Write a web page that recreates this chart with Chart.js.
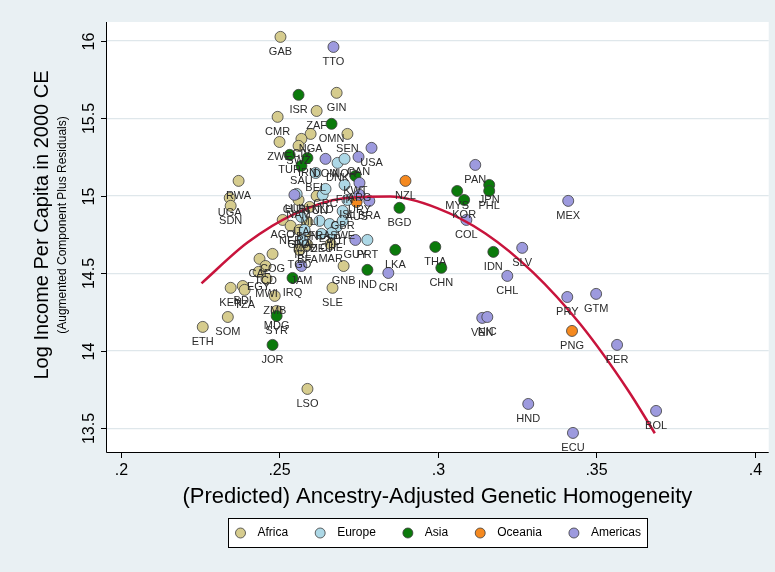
<!DOCTYPE html>
<html>
<head>
<meta charset="utf-8">
<script src="https://cdn.jsdelivr.net/npm/chart.js@4.4.0/dist/chart.umd.min.js"></script>
<style>
  body { margin: 0; background: #e9f0f3; }
  canvas { display: block; }
</style>
</head>
<body>
<canvas id="chart" width="775" height="572"></canvas>
<script>
// values
const africaCodes = ["GAB","GIN","ZAF","CMR","SEN","NGA","CIV","ZWE","SWZ","NAM","TUN","MLI","AGO","NER","BEN","GHA","MOZ","BFA","TGO","MAR","GNB","SLE","COG","CAF","TCD","EGY","MWI","BDI","TZA","KEN","ZMB","MDG","LSO","RWA","UGA","SDN","ETH","SOM"];
const africaX = [.2504,.2681,.2618,.2495,.2715,.2599,.2570,.2501,.2561,.2561,.2618,.2596,.2511,.2536,.2589,.2564,.2583,.2589,.2564,.2662,.2703,.2668,.2479,.2438,.2457,.2435,.2460,.2385,.2391,.2347,.2486,.2492,.2589,.2372,.2344,.2347,.2259,.2338];
const africaY = [16.024,15.663,15.546,15.508,15.398,15.398,15.366,15.346,15.321,14.972,14.998,14.927,14.843,14.805,14.830,14.779,14.753,14.682,14.650,14.688,14.546,14.405,14.624,14.592,14.546,14.508,14.463,14.417,14.392,14.405,14.353,14.256,13.753,15.095,14.985,14.934,14.153,14.217];

const europeCodes = ["DNK","NOR","BEL","FIN","HUN","NLD","ISL","GBR","ITA","FRA","ESP","AUT","SWE","DEU","CHE","IRL","POL","PRT","GRC"];
const europeX = [.2684,.2706,.2615,.2706,.2555,.2637,.2715,.2700,.2570,.2627,.2659,.2681,.2700,.2633,.2665,.2574,.2580,.2778,.2646];
const europeY = [15.211,15.237,15.146,15.069,15.011,15.005,14.972,14.901,14.863,14.837,14.817,14.798,14.837,14.753,14.759,14.714,14.779,14.714,15.043];

const asiaCodes = ["ISR","OMN","TUR","IRN","SAU","KWT","IRQ","SYR","JOR","IND","BGD","LKA","THA","CHN","MYS","KOR","JPN","PHL","IDN"];
const asiaX = [.2561,.2665,.2533,.2589,.2570,.2740,.2542,.2492,.2479,.2778,.2879,.2866,.2992,.3011,.3061,.3083,.3162,.3162,.3175];
const asiaY = [15.650,15.463,15.263,15.243,15.192,15.127,14.469,14.224,14.037,14.521,14.921,14.650,14.669,14.534,15.030,14.972,15.069,15.030,14.637];

const oceaniaCodes = ["AUS","NZL","PNG"];
const oceaniaX = [.2744,.2898,.3423];
const oceaniaY = [14.959,15.095,14.127];

const americasCodes = ["TTO","USA","DOM","CAN","ARG","URY","BRA","CUB","GUY","JAM","CRI","PAN","MEX","COL","SLV","CHL","PRY","GTM","VEN","NIC","PER","HND","BOL","ECU"];
const americasX = [.2671,.2791,.2646,.2750,.2753,.2753,.2784,.2548,.2740,.2570,.2844,.3118,.3411,.3090,.3266,.3219,.3408,.3499,.3140,.3156,.3565,.3285,.3688,.3426];
const americasY = [15.959,15.308,15.237,15.250,15.082,15.005,14.966,15.005,14.714,14.546,14.501,15.198,14.966,14.843,14.663,14.482,14.346,14.366,14.211,14.217,14.037,13.656,13.611,13.469];

// fitted curve, read at a few points along it
const fitX = [.2255,.24,.255,.27,.285,.30,.315,.33,.345,.36,.3684];
const fitY = [14.434,14.697,14.884,14.982,14.994,14.918,14.756,14.505,14.168,13.743,13.467];

const xTicks = [.2,.25,.3,.35,.4];
const xTickLabels = [".2",".25",".3",".35",".4"];
const yTicks = [13.5,14,14.5,15,15.5,16];
const yTickLabels = ["13.5","14","14.5","15","15.5","16"];

const regions = ["Africa","Europe","Asia","Oceania","Americas"];
const regionColors = ["#d6cc8e","#add8e6","#0b7a0b","#f5891f","#9d9ade"];
const regionCodes = [africaCodes, europeCodes, asiaCodes, oceaniaCodes, americasCodes];
const regionX = [africaX, europeX, asiaX, oceaniaX, americasX];
const regionY = [africaY, europeY, asiaY, oceaniaY, americasY];

const FONT = '"Liberation Sans", Arial, sans-serif';

const datasets = [{
  type: "line",
  label: "fit",
  data: fitX.map((x, i) => ({ x: x, y: fitY[i] })),
  borderColor: "#c8143c",
  borderWidth: 2.5,
  pointRadius: 0,
  fill: false,
  cubicInterpolationMode: "monotone",
  order: 0
}];

regions.forEach((r, k) => {
  datasets.push({
    label: r,
    data: regionX[k].map((x, i) => ({ x: x, y: regionY[k][i], code: regionCodes[k][i] })),
    backgroundColor: regionColors[k],
    borderColor: "#3c3c3c",
    borderWidth: 0.8,
    pointRadius: 5.5,
    pointHoverRadius: 5.5,
    order: 5 - k + 1
  });
});

const decor = {
  id: "decor",
  beforeDraw(chart) {
    const { ctx, chartArea: a } = chart;
    ctx.save();
    ctx.fillStyle = "#e9f0f3";
    ctx.fillRect(0, 0, chart.width, chart.height);
    ctx.fillStyle = "#ffffff";
    ctx.fillRect(a.left, a.top, a.right - a.left, a.bottom - a.top);
    ctx.restore();
  },
  afterDatasetsDraw(chart) {
    const ctx = chart.ctx;
    ctx.save();
    ctx.font = "11px " + FONT;
    ctx.fillStyle = "#2a2a2a";
    ctx.textAlign = "center";
    ctx.textBaseline = "middle";
    chart.data.datasets.forEach((ds, i) => {
      if (ds.type === "line") return;
      const meta = chart.getDatasetMeta(i);
      meta.data.forEach((pt, j) => {
        ctx.fillText(ds.data[j].code, pt.x, pt.y + 15);
      });
    });
    ctx.restore();
  },
  afterDraw(chart) {
    const { ctx, chartArea: a } = chart;
    const xs = chart.scales.x, ys = chart.scales.y;
    ctx.save();
    ctx.strokeStyle = "#000";
    ctx.lineWidth = 1;
    ctx.beginPath();
    ctx.moveTo(a.left + 0.5, a.top);
    ctx.lineTo(a.left + 0.5, a.bottom + 0.5);
    ctx.lineTo(a.right, a.bottom + 0.5);
    ctx.stroke();

    ctx.fillStyle = "#000";
    ctx.font = "16px " + FONT;
    ctx.textAlign = "center";
    ctx.textBaseline = "middle";
    yTicks.forEach((v, i) => {
      const py = Math.round(ys.getPixelForValue(v)) + 0.5;
      ctx.beginPath();
      ctx.moveTo(a.left - 5, py);
      ctx.lineTo(a.left, py);
      ctx.stroke();
      ctx.save();
      ctx.translate(a.left - 16, py);
      ctx.rotate(-Math.PI / 2);
      ctx.fillText(yTickLabels[i], 0, 0);
      ctx.restore();
    });
    xTicks.forEach((v, i) => {
      const px = Math.round(xs.getPixelForValue(v)) + 0.5;
      ctx.beginPath();
      ctx.moveTo(px, a.bottom);
      ctx.lineTo(px, a.bottom + 6);
      ctx.stroke();
      ctx.fillText(xTickLabels[i], px, a.bottom + 19);
    });

    // axis titles
    ctx.font = "22px " + FONT;
    ctx.fillText("(Predicted) Ancestry-Adjusted Genetic Homogeneity", (a.left + a.right) / 2, 497);
    ctx.save();
    ctx.translate(42, 225);
    ctx.rotate(-Math.PI / 2);
    ctx.font = "20px " + FONT;
    ctx.fillText("Log Income Per Capita in 2000 CE", 0, 0);
    ctx.font = "12px " + FONT;
    ctx.fillText("(Augmented Component Plus Residuals)", 0, 21);
    ctx.restore();

    // legend
    const lx = 228.5, ly = 518.5, lw = 419, lh = 29;
    ctx.fillStyle = "#fff";
    ctx.fillRect(lx, ly, lw, lh);
    ctx.strokeRect(lx, ly, lw, lh);
    ctx.font = "12px " + FONT;
    ctx.textAlign = "left";
    let cx = lx + 12;
    regions.forEach((r, k) => {
      ctx.beginPath();
      ctx.arc(cx, ly + lh / 2, 5, 0, Math.PI * 2);
      ctx.fillStyle = regionColors[k];
      ctx.fill();
      ctx.strokeStyle = "#3c3c3c";
      ctx.lineWidth = 0.8;
      ctx.stroke();
      ctx.fillStyle = "#000";
      ctx.fillText(r, cx + 17, ly + lh / 2);
      cx += 17 + ctx.measureText(r).width + 32;
    });
    ctx.restore();
  }
};

new Chart(document.getElementById("chart").getContext("2d"), {
  type: "scatter",
  data: { datasets: datasets },
  options: {
    responsive: false,
    animation: false,
    devicePixelRatio: 1,
    layout: { padding: { left: 106, right: 5, top: 22, bottom: 120 } },
    plugins: { legend: { display: false }, tooltip: { enabled: false } },
    scales: {
      x: {
        type: "linear",
        min: 0.1954,
        max: 0.4043,
        afterBuildTicks: s => { s.ticks = xTicks.map(v => ({ value: v })); },
        afterFit: s => { s.height = 0; },
        ticks: { display: false },
        grid: { display: false },
        border: { display: false }
      },
      y: {
        type: "linear",
        min: 13.346,
        max: 16.12,
        afterBuildTicks: s => { s.ticks = yTicks.map(v => ({ value: v })); },
        afterFit: s => { s.width = 0; },
        ticks: { display: false },
        grid: { color: "#dfe7eb", lineWidth: 1.2, drawTicks: false },
        border: { display: false }
      }
    }
  },
  plugins: [decor]
});
</script>
</body>
</html>
